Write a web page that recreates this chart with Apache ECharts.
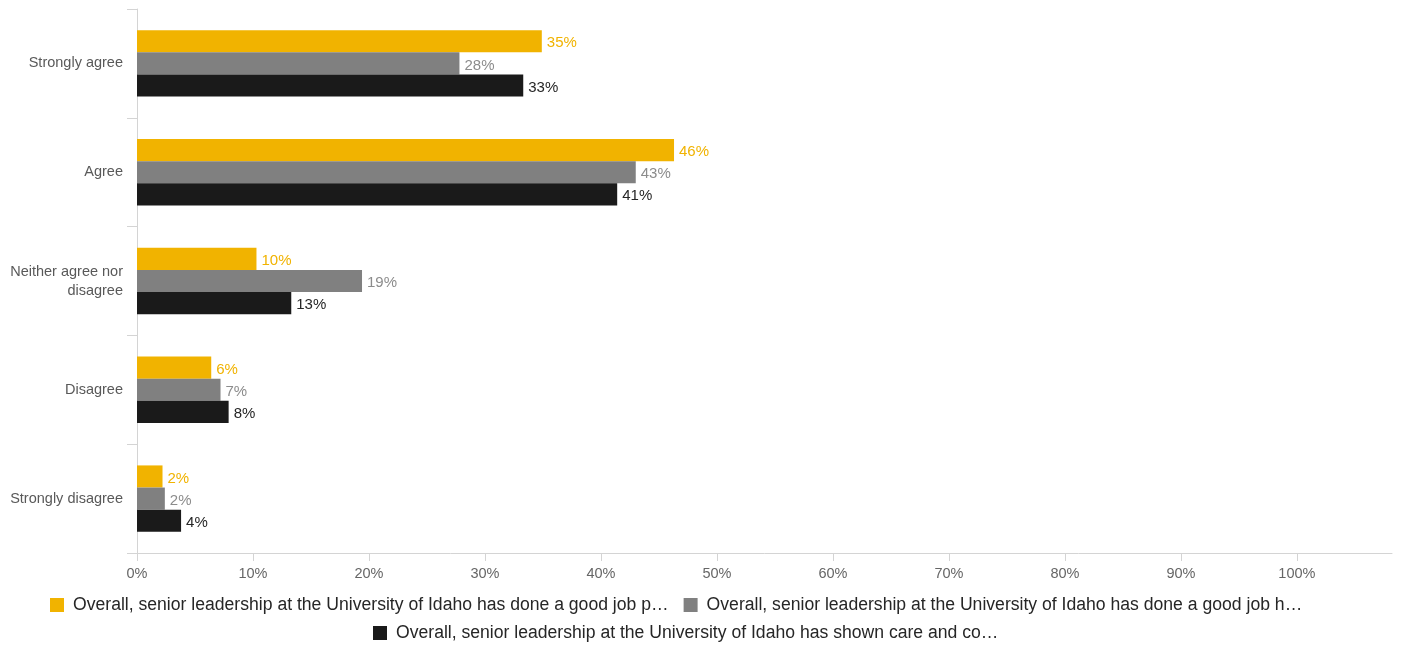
<!DOCTYPE html>
<html>
<head>
<meta charset="utf-8">
<script src="https://cdn.jsdelivr.net/npm/echarts@6/dist/echarts.min.js"></script>
<style>
  html, body { margin: 0; padding: 0; background: #fff; }
  #chart { width: 1403px; height: 647px; }
</style>
</head>
<body>
<div id="chart"></div>
<script>
// Response categories, top to bottom
const categories = ['Strongly agree', 'Agree', 'Neither agree nor\ndisagree', 'Disagree', 'Strongly disagree'];

// Series names (as shown in the legend)
const seriesNames = [
  'Overall, senior leadership at the University of Idaho has done a good job p…',
  'Overall, senior leadership at the University of Idaho has done a good job h…',
  'Overall, senior leadership at the University of Idaho has shown care and co…'
];

// Percent of respondents per category
const goodJobP = [34.9, 46.3, 10.3, 6.4, 2.2];
const goodJobH = [27.8, 43.0, 19.4, 7.2, 2.4];
const careAndCo = [33.3, 41.4, 13.3, 7.9, 3.8];

// X axis tick labels
const xTicks = [0, 10, 20, 30, 40, 50, 60, 70, 80, 90, 100];

const barColors = ['#F1B300', '#808080', '#1A1A1A'];
const labelColors = ['#F1B300', '#8C8C8C', '#262626'];
const FONT = '"Liberation Sans", Arial, sans-serif';

const values = [goodJobP, goodJobH, careAndCo];

const legendText = { fontFamily: FONT, fontSize: 17.6, color: '#262626', padding: [0, 0, 0, 4] };

const chart = echarts.init(document.getElementById('chart'), null, { renderer: 'canvas' });

chart.setOption({
  animation: false,
  textStyle: { fontFamily: FONT },
  grid: { left: 137, right: 11, top: 9, bottom: 94, containLabel: false },
  legend: [
    {
      data: [seriesNames[0], seriesNames[1]],
      top: 591, left: 45,
      icon: 'rect', itemWidth: 14, itemHeight: 14, itemGap: 15,
      textStyle: legendText
    },
    {
      data: [seriesNames[2]],
      top: 619, left: 368,
      icon: 'rect', itemWidth: 14, itemHeight: 14,
      textStyle: legendText
    }
  ],
  xAxis: {
    type: 'value',
    min: 0,
    max: 108.2,
    interval: 10,
    splitLine: { show: false },
    axisLine: { show: true, lineStyle: { color: '#D4D4D4', width: 1 } },
    axisTick: { show: true, length: 8, lineStyle: { color: '#D4D4D4' },
      customValues: xTicks },
    axisLabel: {
      customValues: xTicks,
      formatter: v => v + '%',
      color: '#666666', fontSize: 14.5, margin: 13, fontFamily: FONT
    }
  },
  yAxis: {
    type: 'category',
    data: categories,
    inverse: true,
    axisLine: { show: true, lineStyle: { color: '#D4D4D4', width: 1 } },
    axisTick: { show: true, length: 10, lineStyle: { color: '#D4D4D4' } },
    axisLabel: { color: '#595959', fontSize: 14.5, margin: 14, lineHeight: 19, fontFamily: FONT }
  },
  series: seriesNames.map((name, i) => ({
    name,
    type: 'bar',
    data: values[i],
    barGap: '0%',
    barCategoryGap: '39%',
    itemStyle: { color: barColors[i] },
    label: {
      show: true,
      position: 'right',
      distance: 5,
      offset: [0, 2],
      color: labelColors[i],
      fontSize: 15,
      fontFamily: FONT,
      formatter: p => Math.round(p.value) + '%'
    }
  }))
});
</script>
</body>
</html>
